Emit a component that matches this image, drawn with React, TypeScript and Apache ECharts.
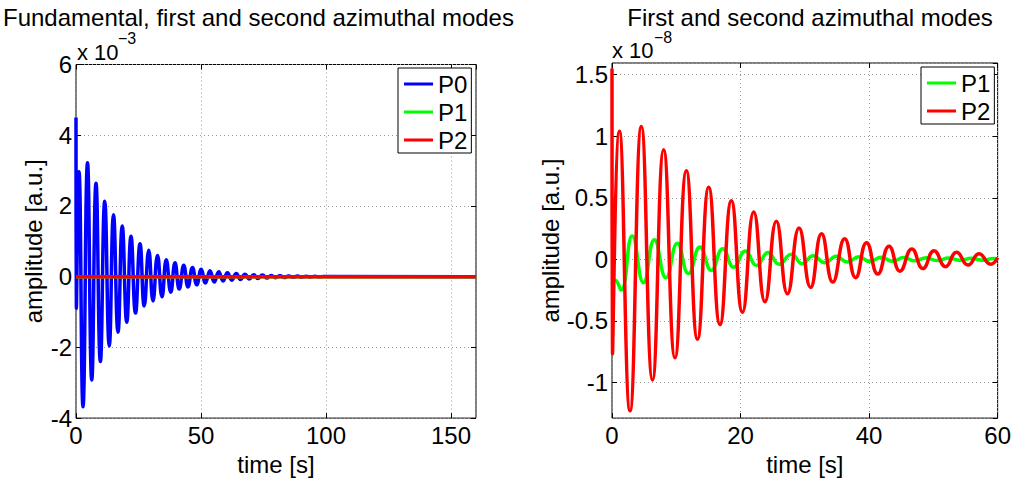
import React, { useEffect, useRef } from "react";
import * as echarts from "echarts";

// ---- Left panel (x 10^-3) ----
const p0Time = [0, 0.15, 1.2, 2.8, 4.6, 6.3, 8.0, 9.75, 11.5, 13.3, 15.0, 16.8, 18.5, 20.3, 22.0, 23.8, 25.6, 27.3, 29.1, 30.8, 32.6, 34.4, 36.1, 37.9, 39.6, 41.3, 43.1, 44.8, 46.6, 48.3, 50.1, 51.8, 53.6, 55.3, 57.1, 58.8, 60.6, 62.3, 64.1, 65.8, 67.6, 69.3, 71.1, 72.8, 74.6, 76.3, 78.1, 79.8, 81.6, 83.3, 85.1, 86.8, 88.6, 90.3, 92.1, 93.8, 95.6, 97.3, 99.0, 160];
const p0Amp = [4.5, -0.9, 2.97, -3.68, 3.22, -2.92, 2.64, -2.4, 2.13, -1.96, 1.75, -1.57, 1.43, -1.29, 1.14, -1.03, 0.93, -0.83, 0.75, -0.69, 0.6, -0.57, 0.48, -0.44, 0.39, -0.35, 0.32, -0.29, 0.26, -0.23, 0.21, -0.18, 0.17, -0.15, 0.14, -0.12, 0.11, -0.1, 0.09, -0.08, 0.07, -0.065, 0.055, -0.05, 0.045, -0.04, 0.035, -0.03, 0.028, -0.025, 0.022, -0.02, 0.017, -0.015, 0.013, -0.012, 0.01, -0.009, 0.008, 0];
const leftFlatTime = [0, 160];
const leftP1Amp = [0, 0];
const leftP2Amp = [0, 0];

// ---- Right panel (x 10^-8) ----
const p2Time = [0, 0.08, 1.15, 2.8, 4.57, 6.3, 8.04, 9.8, 11.57, 13.3, 15.05, 16.8, 18.57, 20.3, 22.05, 23.8, 25.57, 27.3, 29.1, 30.9, 32.6, 34.35, 36.2, 37.9, 39.6, 41.35, 43.1, 44.8, 46.65, 48.36, 50.1, 51.9, 53.6, 55.4, 57.1, 58.9, 60];
const p2Amp = [1.55, -0.77, 1.04, -1.23, 1.08, -0.98, 0.89, -0.8, 0.72, -0.65, 0.585, -0.53, 0.475, -0.43, 0.385, -0.345, 0.31, -0.28, 0.255, -0.228, 0.207, -0.185, 0.167, -0.149, 0.135, -0.12, 0.107, -0.096, 0.083, -0.075, 0.07, -0.06, 0.057, -0.047, 0.045, -0.04, 0.013];
const p1Time = [0, 0.5, 1.4, 3.15, 4.9, 6.6, 8.4, 10.17, 11.9, 13.7, 15.46, 17.23, 18.94, 20.75, 22.5, 24.28, 26.0, 27.9, 29.6, 31.3, 33.1, 34.9, 36.6, 38.4, 40.1, 41.9, 43.6, 45.4, 47.1, 48.9, 50.6, 52.4, 54.1, 55.9, 57.6, 59.4, 60];
const p1Amp = [-0.2, -0.17, -0.25, 0.19, -0.19, 0.16, -0.15, 0.13, -0.115, 0.1, -0.09, 0.085, -0.065, 0.068, -0.05, 0.055, -0.04, 0.042, -0.036, 0.03, -0.028, 0.024, -0.022, 0.02, -0.018, 0.016, -0.015, 0.014, -0.012, 0.012, -0.01, 0.01, -0.008, 0.008, -0.007, 0.007, 0.004];

const leftXTicks = { min: 0, max: 160, interval: 50 };
const leftYTicks = { min: -4, max: 6, interval: 2 };
const rightXTicks = { min: 0, max: 60, interval: 20 };
const rightYRange = { min: -1.29, max: 1.595 };

const titles = ["Fundamental, first and second azimuthal modes", "First and second azimuthal modes"];
const exponents = ["\u22123", "\u22128"];

const zip = (t: number[], v: number[]) => t.map((x, i) => [x, v[i]]);

const FONT = "'Liberation Sans', Arial, Helvetica, sans-serif";
const BLUE = "#0000ff";
const GREEN = "#00ff00";
const RED = "#ff0000";

const gridLine = { show: true, lineStyle: { color: "#9a9a9a", type: [1, 3] as any, width: 1 } };
const tick = { show: true, inside: true, length: 5, lineStyle: { color: "#000" } };
const label = { fontSize: 24, color: "#000", fontFamily: FONT };

export default function App() {
  const ref = useRef<HTMLDivElement>(null);
  useEffect(() => {
    const chart = echarts.init(ref.current!, null, { renderer: "svg" });
    const lineSeries = (name: string, data: number[][], color: string, xi: number, yi: number, z: number) => ({
      name,
      type: "line",
      data,
      xAxisIndex: xi,
      yAxisIndex: yi,
      showSymbol: false,
      symbol: "none",
      smooth: 0.5,
      color,
      z,
      lineStyle: { color, width: 3.5 },
    });
    const option: any = {
      animation: false,
      backgroundColor: "#fff",
      textStyle: { fontFamily: FONT },
      grid: [
        { left: 76, top: 64.5, width: 400, height: 360.5, show: true, borderColor: "#000", borderWidth: 1, backgroundColor: "#fff" },
        { left: 612, top: 63, width: 386, height: 363, show: true, borderColor: "#000", borderWidth: 1, backgroundColor: "#fff" },
      ],
      xAxis: [
        {
          type: "value", gridIndex: 0, ...leftXTicks,
          axisLine: { show: false, onZero: false }, axisTick: tick,
          axisLabel: { ...label, margin: 5, showMaxLabel: false },
          splitLine: gridLine,
          name: "time [s]", nameLocation: "middle", nameGap: 28,
          nameTextStyle: { ...label },
        },
        {
          type: "value", gridIndex: 0, position: "top", ...leftXTicks,
          axisLine: { show: false, onZero: false }, axisTick: tick,
          axisLabel: { show: false }, splitLine: { show: false },
        },
        {
          type: "value", gridIndex: 1, ...rightXTicks,
          axisLine: { show: false, onZero: false }, axisTick: tick,
          axisLabel: { ...label, margin: 5 },
          splitLine: gridLine,
          name: "time [s]", nameLocation: "middle", nameGap: 28,
          nameTextStyle: { ...label },
        },
        {
          type: "value", gridIndex: 1, position: "top", ...rightXTicks,
          axisLine: { show: false, onZero: false }, axisTick: tick,
          axisLabel: { show: false }, splitLine: { show: false },
        },
      ],
      yAxis: [
        {
          type: "value", gridIndex: 0, ...leftYTicks,
          axisLine: { show: false, onZero: false }, axisTick: tick,
          axisLabel: { ...label, margin: 4 },
          splitLine: gridLine,
          name: "amplitude [a.u.]", nameLocation: "middle", nameGap: 31,
          nameTextStyle: { ...label },
        },
        {
          type: "value", gridIndex: 0, position: "right", ...leftYTicks,
          axisLine: { show: false, onZero: false }, axisTick: tick,
          axisLabel: { show: false }, splitLine: { show: false },
        },
        {
          type: "value", gridIndex: 1, ...rightYRange, splitNumber: 5,
          axisLine: { show: false, onZero: false }, axisTick: tick,
          axisLabel: { ...label, margin: 4, showMinLabel: false, showMaxLabel: false },
          splitLine: gridLine,
          name: "amplitude [a.u.]", nameLocation: "middle", nameGap: 45,
          nameTextStyle: { ...label },
        },
        {
          type: "value", gridIndex: 1, position: "right", ...rightYRange, splitNumber: 5,
          axisLine: { show: false, onZero: false }, axisTick: tick,
          axisLabel: { show: false }, splitLine: { show: false },
        },
      ],
      legend: [
        {
          data: ["P0", "P1", "P2"], orient: "vertical", left: 398, top: 68,
          icon: "rect", itemWidth: 29, itemHeight: 3, itemGap: 4,
          padding: [4, 4, 1, 6], borderColor: "#000", borderWidth: 1, backgroundColor: "#fff",
          textStyle: { ...label }, selectedMode: false,
        },
        {
          data: ["P1", "P2"], orient: "vertical", left: 921, top: 67,
          icon: "rect", itemWidth: 29, itemHeight: 3, itemGap: 4,
          padding: [4, 4, 1, 6], borderColor: "#000", borderWidth: 1, backgroundColor: "#fff",
          textStyle: { ...label }, selectedMode: false,
        },
      ],
      series: [
        lineSeries("P0", zip(p0Time, p0Amp), BLUE, 0, 0, 2),
        lineSeries("P1", zip(leftFlatTime, leftP1Amp), GREEN, 0, 0, 3),
        lineSeries("P2", zip(leftFlatTime, leftP2Amp), RED, 0, 0, 4),
        lineSeries("P1", zip(p1Time, p1Amp), GREEN, 2, 2, 3),
        lineSeries("P2", zip(p2Time, p2Amp), RED, 2, 2, 4),
      ],
      graphic: [
        { type: "text", x: 3, y: 17, style: { text: titles[0], font: `24px ${FONT}`, fill: "#000", verticalAlign: "middle" } },
        { type: "text", x: 810, y: 17, style: { text: titles[1], font: `24px ${FONT}`, fill: "#000", align: "center", verticalAlign: "middle" } },
        { type: "text", x: 77, y: 52, style: { text: "x 10", font: `22px ${FONT}`, fill: "#000", verticalAlign: "middle" } },
        { type: "text", x: 118, y: 38, style: { text: exponents[0], font: `16px ${FONT}`, fill: "#000", verticalAlign: "middle" } },
        { type: "text", x: 612, y: 50, style: { text: "x 10", font: `22px ${FONT}`, fill: "#000", verticalAlign: "middle" } },
        { type: "text", x: 654, y: 37, style: { text: exponents[1], font: `16px ${FONT}`, fill: "#000", verticalAlign: "middle" } },
      ],
    };
    chart.setOption(option);
    return () => chart.dispose();
  }, []);
  return <div ref={ref} style={{ position: "absolute", left: 0, top: 0, width: 1014, height: 481 }} />;
}
